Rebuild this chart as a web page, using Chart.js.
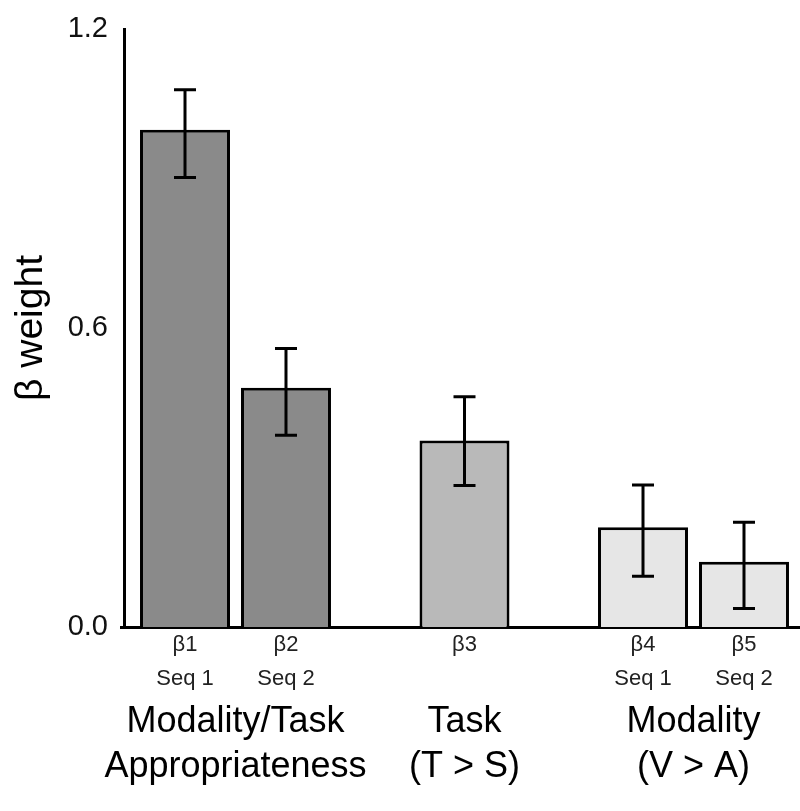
<!DOCTYPE html>
<html>
<head>
<meta charset="utf-8">
<script src="https://cdn.jsdelivr.net/npm/chart.js@4"></script>
<style>
  html, body { margin: 0; padding: 0; background: #ffffff; overflow: hidden; }
  #wrap { width: 800px; height: 811px; }
</style>
</head>
<body>
<div id="wrap"><canvas id="c" width="800" height="811"></canvas></div>
<script>
// ---- data ----
const groupLabels = [['Modality/Task', 'Appropriateness'], ['Task', '(T > S)'], ['Modality', '(V > A)']];
const firstBarNames = ['β1', 'β3', 'β4'];
const firstBarSeq = ['Seq 1', '', 'Seq 1'];
const secondBarNames = ['β2', '', 'β5'];
const secondBarSeq = ['Seq 2', '', 'Seq 2'];
const firstValues = [0.998, 0.374, 0.200];
const secondValues = [0.480, null, 0.131];
const firstCiHigh = [1.078, 0.462, 0.285];
const firstCiLow = [0.902, 0.284, 0.102];
const secondCiHigh = [0.559, null, 0.210];
const secondCiLow = [0.385, null, 0.037];
const yTicks = [0.0, 0.6, 1.2];
const groupColors = ['#8a8a8a', '#b9b9b9', '#e6e6e6'];

const FONT = "'Liberation Sans', Arial, Helvetica, sans-serif";

const barLabels = [
  { names: firstBarNames, seq: firstBarSeq },
  { names: secondBarNames, seq: secondBarSeq }
];
const barCi = [
  { hi: firstCiHigh, lo: firstCiLow },
  { hi: secondCiHigh, lo: secondCiLow }
];

const layoutTweak = {
  id: 'layoutTweak',
  afterLayout(chart) {
    const x = chart.scales.x;
    x.left = 121; x.right = 808; x.width = 687;
    x.configure();
    const y = chart.scales.y;
    y.top = 29; y.bottom = 627; y.height = 598;
    y.configure();
    const a = chart.chartArea;
    a.top = 29; a.bottom = 627; a.height = 598;
  }
};

const errorBars = {
  id: 'errorBars',
  afterDatasetsDraw(chart) {
    const ctx = chart.ctx;
    const y = chart.scales.y;
    ctx.save();
    ctx.strokeStyle = '#000';
    ctx.lineWidth = 3;
    ctx.lineCap = 'butt';
    chart.data.datasets.forEach((ds, di) => {
      const meta = chart.getDatasetMeta(di);
      meta.data.forEach((el, i) => {
        const hi = barCi[di].hi[i];
        const lo = barCi[di].lo[i];
        if (ds.data[i] === null || hi === null) return;
        const top = y.getPixelForValue(hi);
        const bot = y.getPixelForValue(lo);
        const cx = el.x;
        ctx.beginPath();
        ctx.moveTo(cx, top); ctx.lineTo(cx, bot);
        ctx.moveTo(cx - 11, top); ctx.lineTo(cx + 11, top);
        ctx.moveTo(cx - 11, bot); ctx.lineTo(cx + 11, bot);
        ctx.stroke();
      });
    });
    ctx.restore();
  }
};

const barNameLabels = {
  id: 'barNameLabels',
  afterDraw(chart) {
    const ctx = chart.ctx;
    const base = chart.chartArea.bottom;
    ctx.save();
    ctx.fillStyle = '#222';
    ctx.font = '22px ' + FONT;
    ctx.textAlign = 'center';
    ctx.textBaseline = 'alphabetic';
    chart.data.datasets.forEach((ds, di) => {
      const meta = chart.getDatasetMeta(di);
      meta.data.forEach((el, i) => {
        if (ds.data[i] === null) return;
        ctx.fillText(barLabels[di].names[i], el.x, base + 24);
        if (barLabels[di].seq[i]) ctx.fillText(barLabels[di].seq[i], el.x, base + 58);
      });
    });
    ctx.restore();
  }
};

new Chart(document.getElementById('c'), {
  type: 'bar',
  data: {
    labels: groupLabels,
    datasets: [
      {
        data: firstValues,
        backgroundColor: groupColors,
        borderColor: '#000',
        borderWidth: 3,
        borderSkipped: 'bottom'
      },
      {
        data: secondValues,
        backgroundColor: groupColors,
        borderColor: '#000',
        borderWidth: 3,
        borderSkipped: 'bottom'
      }
    ]
  },
  options: {
    responsive: false,
    animation: false,
    events: [],
    skipNull: true,
    categoryPercentage: 0.882,
    barPercentage: 0.891,
    maxBarThickness: 90,
    layout: { padding: { top: 25, left: 0, right: 0, bottom: 0 } },
    plugins: {
      legend: { display: false },
      tooltip: { enabled: false }
    },
    scales: {
      x: {
        grid: { display: false, drawTicks: false },
        border: { display: true, color: '#000', width: 3 },
        ticks: {
          color: '#000',
          font: { family: FONT, size: 36, lineHeight: 1.25 },
          padding: 73,
          maxRotation: 0,
          autoSkip: false
        },
        afterFit(scale) { scale.height = 184; }
      },
      y: {
        min: 0,
        max: 1.2,
        afterBuildTicks(scale) { scale.ticks = yTicks.map(v => ({ value: v })); },
        grid: { display: false, drawTicks: false },
        border: { display: true, color: '#000', width: 3 },
        ticks: {
          color: '#111',
          font: { family: FONT, size: 29 },
          padding: 16,
          callback: (v) => Number(v).toFixed(1)
        },
        title: {
          display: true,
          text: 'β weight',
          color: '#000',
          font: { family: FONT, size: 39 },
          padding: { top: 8, bottom: 0 }
        },
        afterFit(scale) { scale.width = 124; }
      }
    }
  },
  plugins: [layoutTweak, errorBars, barNameLabels]
});
</script>
</body>
</html>
